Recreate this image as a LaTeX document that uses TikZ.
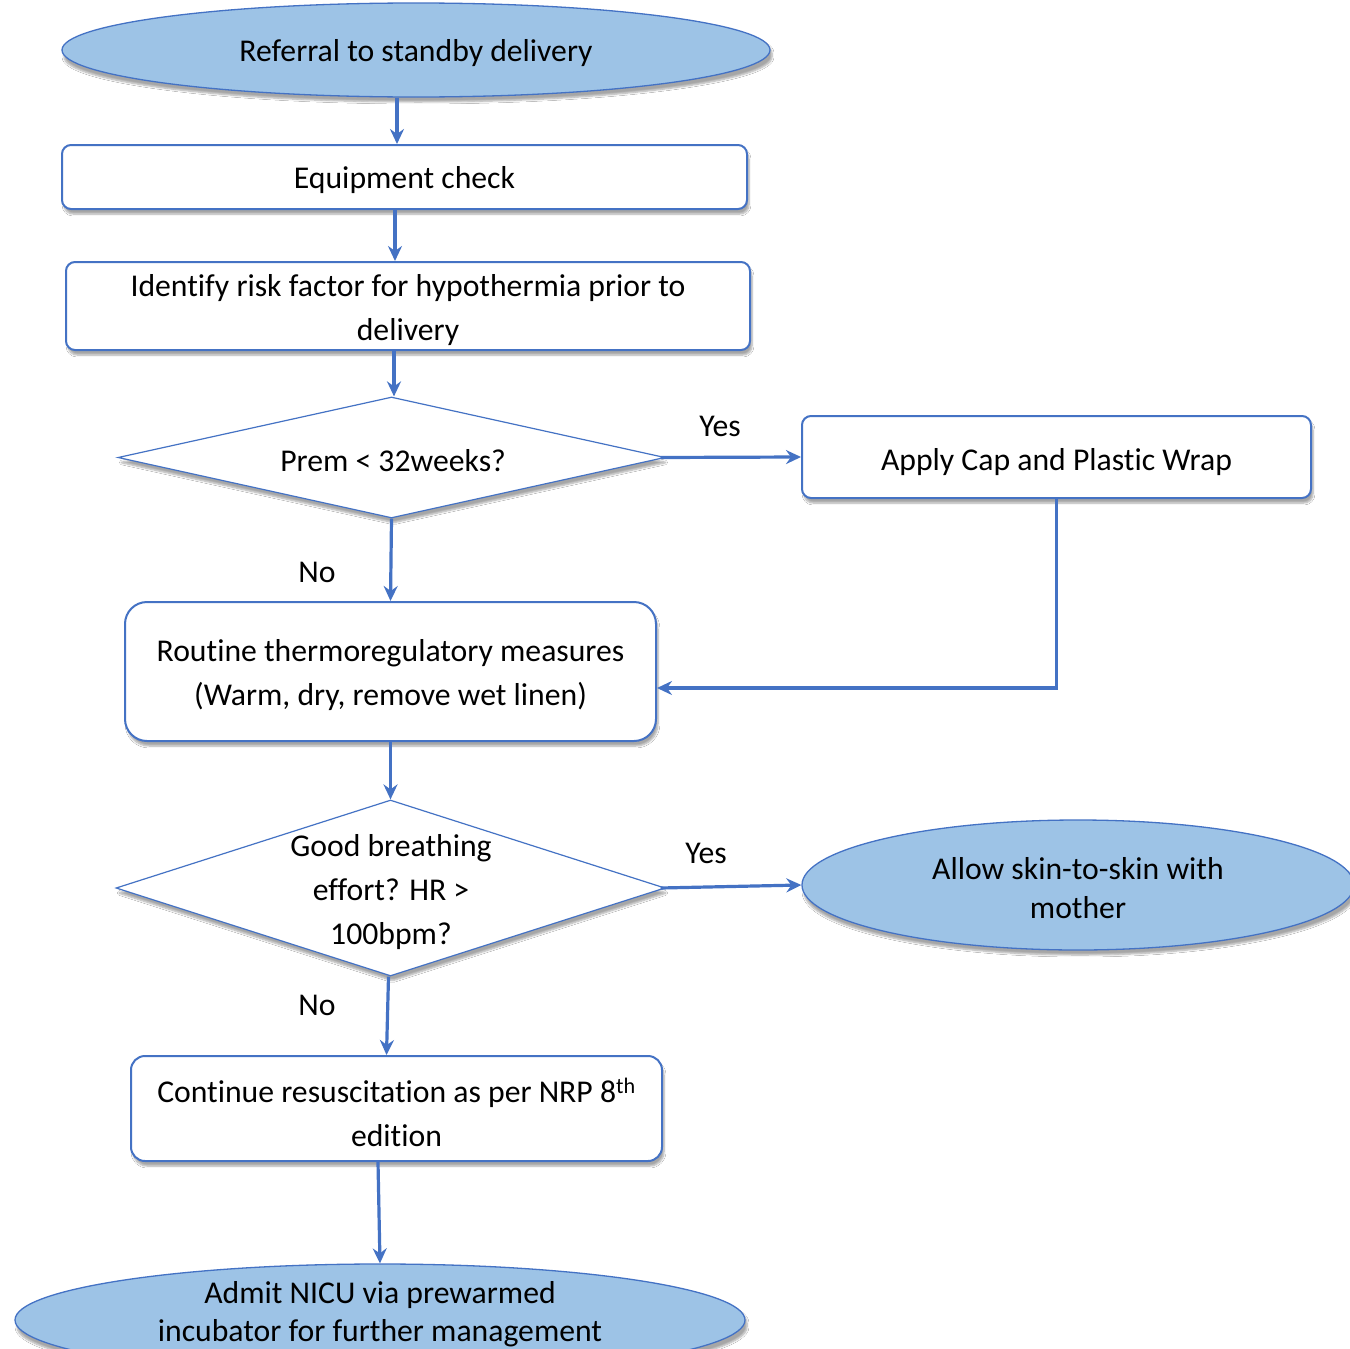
\documentclass[tikz,border=0pt]{standalone}
\usepackage{fontspec}
\setmainfont{Carlito}[Ligatures=NoCommon]
\usetikzlibrary{shapes.geometric,arrows.meta,shadows.blur}
\definecolor{lineblue}{HTML}{4472C4}
\definecolor{fillblue}{HTML}{9DC3E6}
\tikzset{
  shd/.style={blur shadow={shadow xshift=2pt,shadow yshift=-5pt,shadow blur steps=6,shadow blur extra rounding=2pt,shadow opacity=35}},
  txt/.style={font=\fontsize{31.7}{44}\selectfont, align=center, text=black},
  oval/.style={ellipse, draw=lineblue, line width=1.3pt, fill=fillblue, inner sep=0pt, shd},
  boxnode/.style={rectangle, rounded corners=9pt, draw=lineblue, line width=2pt, fill=white, inner sep=0pt, shd},
  dia/.style={diamond, draw=lineblue, line width=1.2pt, fill=white, inner sep=0pt, shd},
  arr/.style={draw=lineblue, line width=3.2pt, -{Stealth[length=15pt,width=14pt,inset=5pt]}},
  lbl/.style={txt, inner sep=0pt}
}
\begin{document}
\begin{tikzpicture}[x=1pt,y=-1pt]
\clip (0,0) rectangle (1350,1349);
\fill[white] (0,0) rectangle (1350,1349);
% shapes
\node[oval, minimum width=708pt, minimum height=94pt] (ref) at (416,50) {};
\node[boxnode, minimum width=685pt, minimum height=64pt] (equip) at (404.5,177) {};
\node[boxnode, minimum width=684pt, minimum height=88pt] (ident) at (408,306) {};
\node[dia, minimum width=547pt, minimum height=121pt] (prem) at (391.5,457.5) {};
\node[boxnode, minimum width=509pt, minimum height=82pt] (apply) at (1056.5,457) {};
\node[boxnode, rounded corners=22pt, minimum width=531pt, minimum height=139pt] (routine) at (390.5,671.5) {};
\node[dia, minimum width=549pt, minimum height=176pt] (good) at (390.5,888) {};
\node[oval, minimum width=552pt, minimum height=130pt] (allow) at (1078,885) {};
\node[boxnode, rounded corners=14pt, minimum width=531pt, minimum height=105pt] (cont) at (396.5,1108.5) {};
\node[oval, minimum width=730pt, minimum height=112pt] (admit) at (380,1320) {};
% texts
\node[lbl] (reft) at (416,53) {Referral to standby delivery};
\node[lbl] (equipt) at (404.5,180) {Equipment check};
\node[lbl] (identt) at (408,310.5) {Identify risk factor for hypothermia prior to\\delivery};
\node[lbl] (premt) at (393,461) {Prem < 32weeks?};
\node[lbl] (applyt) at (1056.5,462) {Apply Cap and Plastic Wrap};
\node[lbl] (routinet) at (390.5,675.5) {Routine thermoregulatory measures\\(Warm, dry, remove wet linen)};
\node[lbl] (goodt) at (391,892) {Good breathing\\effort? HR >\\100bpm?};
\node[lbl, font=\fontsize{31.7}{39}\selectfont] (allowt) at (1078,888.5) {Allow skin-to-skin with\\mother};
\node[lbl] (contt) at (396.5,1112.5) {Continue resuscitation as per NRP 8\textsuperscript{th}\\edition};
\node[lbl, font=\fontsize{31.7}{38}\selectfont] (admitt) at (380,1314) {Admit NICU via prewarmed\\incubator for further management};
% labels
\node[lbl] (yes1) at (720,426) {Yes};
\node[lbl] (no1) at (317,572) {No};
\node[lbl] (yes2) at (706,853) {Yes};
\node[lbl] (no2) at (317,1005) {No};
% connectors
\draw[arr] ([xshift=-19pt]ref.south) -- ([xshift=-19pt]ref.south |- equip.north);
\draw[arr] ([xshift=-9.5pt]equip.south) -- ([xshift=-9.5pt]equip.south |- ident.north);
\draw[arr] ([xshift=-14pt]ident.south) -- ([xshift=-14pt]ident.south |- prem.north);
\draw[arr] ([xshift=-5pt]prem.east) -- (apply.west);
\draw[arr] (prem.south) -- (routine.north);
\draw[arr] (apply.south) |- ([yshift=-16.5pt]routine.east);
\draw[arr] (routine.south) -- (good.north);
\draw[arr] ([xshift=-5pt]good.east) -- (allow.west);
\draw[arr] ([xshift=-2pt]good.south) -- ([xshift=-10pt]cont.north);
\draw[arr] ([xshift=-18.5pt]cont.south) -- (admit.north);
\end{tikzpicture}
\end{document}
